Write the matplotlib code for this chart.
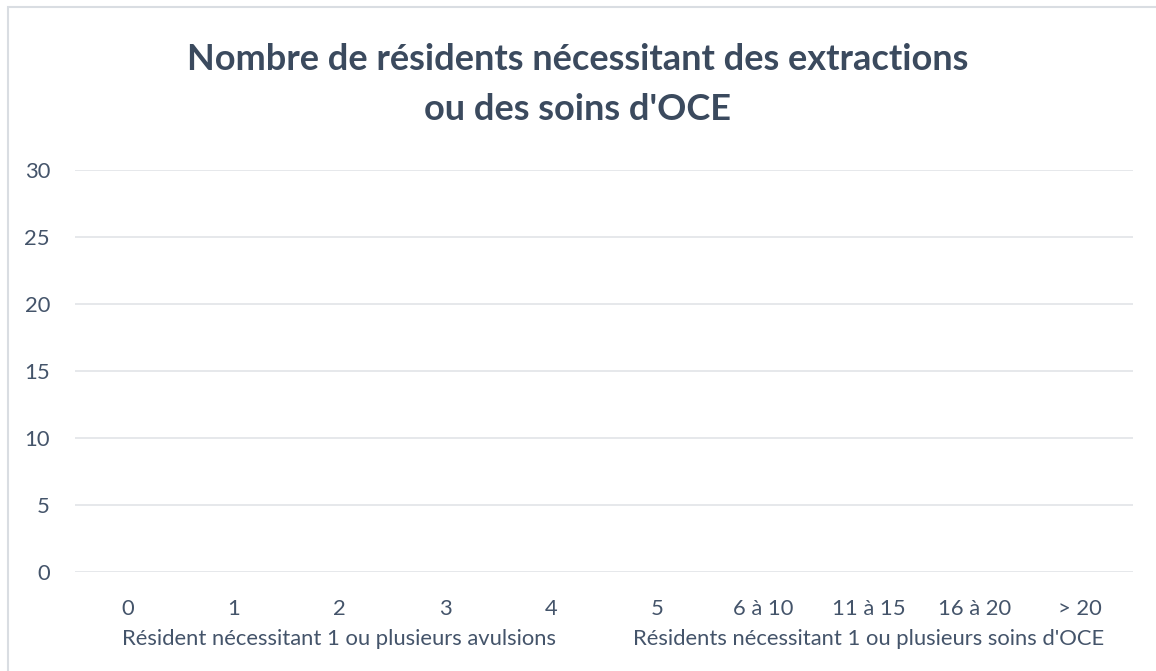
import matplotlib.pyplot as plt
from matplotlib.patches import Rectangle
import numpy as np

categories = ["0", "1", "2", "3", "4", "5", "6 à 10", "11 à 15", "16 à 20", "> 20"]
values = [0, 0, 0, 0, 0, 0, 0, 0, 0, 0]
groups = ["Résident nécessitant 1 ou plusieurs avulsions",
          "Résidents nécessitant 1 ou plusieurs soins d'OCE"]
group_sizes = [5, 5]
yticks = [0, 5, 10, 15, 20, 25, 30]
title = "Nombre de résidents nécessitant des extractions\nou des soins d'OCE"

text_col = "#44546a"
title_col = "#3b4a5e"
grid_col = "#e1e4e8"

plt.rcParams['font.family'] = ['Lato', 'DejaVu Sans']

W, H = 1156, 671
fig = plt.figure(figsize=(W / 100, H / 100), dpi=100)
ax = fig.add_axes([75 / W, 1 - 572 / H, (1133 - 75) / W, (572 - 170) / H])

x = np.arange(len(categories))
ax.bar(x, values, width=0.6, color="#4472c4")

fs = 15.8
ax.set_xlim(-0.5, len(categories) - 0.5)
ax.set_ylim(0, 30)
ax.set_yticks(yticks)
ax.set_yticklabels([str(v) for v in yticks], color=text_col, fontsize=fs)
ax.set_xticks(x)
ax.set_xticklabels(categories, color=text_col, fontsize=fs)
ax.tick_params(axis='y', length=0, pad=18)
ax.tick_params(axis='x', length=0, pad=19.5)
ax.yaxis.grid(True, color=grid_col, lw=1.2)
ax.set_axisbelow(True)
for s in ax.spines.values():
    s.set_visible(False)

# group labels
start = 0
for g, n in zip(groups, group_sizes):
    cx = start + (n - 1) / 2
    ax.text(cx, -0.167, g, transform=ax.get_xaxis_transform(), ha='center', va='center',
            color=text_col, fontsize=fs)
    start += n

fig.text(0.5, 1 - 84.5 / H, title, ha='center', va='center', fontsize=26, fontweight='bold',
         color=title_col, linespacing=1.63)

# chart border
fig.patches.append(Rectangle((8 / W, -0.05), 1.2, 1 - 7 / H + 0.05, transform=fig.transFigure,
                             fill=False, edgecolor="#d9dde2", lw=1.5))

fig.savefig("out.png", dpi=100, facecolor="white")
